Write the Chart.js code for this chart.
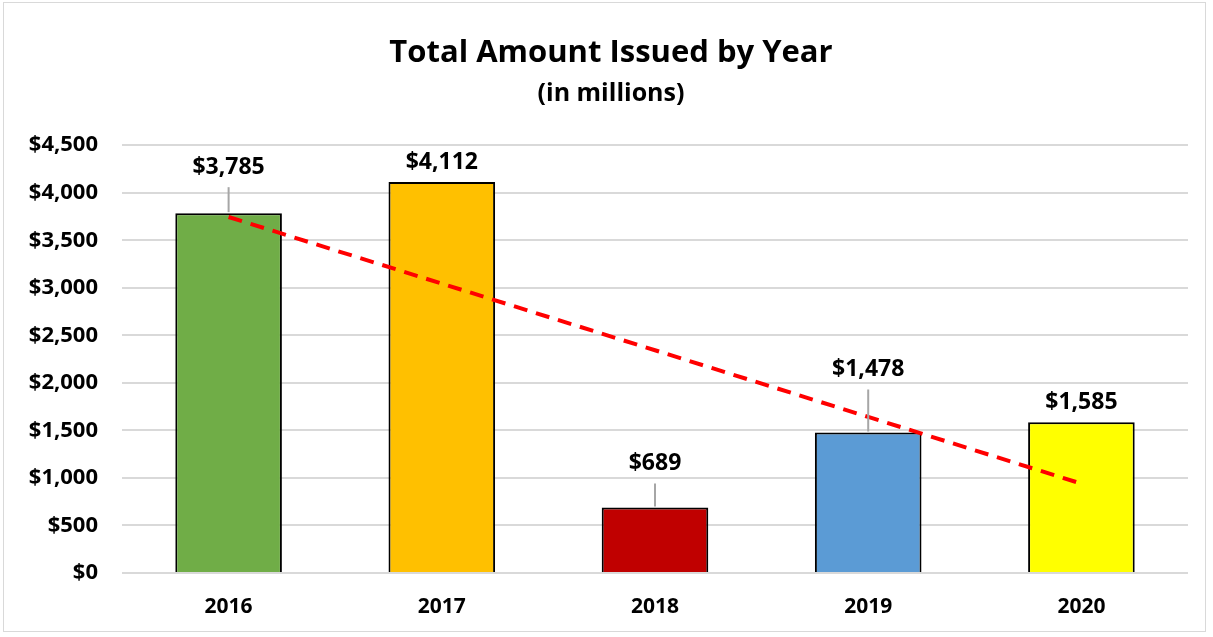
<!DOCTYPE html>
<html>
<head>
<meta charset="utf-8">
<script src="https://cdn.jsdelivr.net/npm/chart.js@4.4.1/dist/chart.umd.min.js"></script>
<style>
  body { margin: 0; background: #fff; }
  #wrap { position: absolute; left: 3px; top: 2px; width: 1203px; height: 630px; border: 1px solid #d9d9d9; box-sizing: border-box; }
</style>
</head>
<body>
<div id="wrap"><canvas id="barChart"></canvas></div>
<script>
var years = ['2016', '2017', '2018', '2019', '2020'];
var amounts = [3785, 4112, 689, 1478, 1585];
var trendValues = [3745, 3044, 2343, 1642, 940];
var barColors = ['#70AD47', '#FFC000', '#C00000', '#5B9BD5', '#FFFF00'];

var FONT = "'Open Sans', sans-serif";

function money(v) {
  return '$' + Number(v).toLocaleString('en-US');
}

// labels above bars, some lifted with a grey leader line
var labelPlugin = {
  id: 'barLabels',
  afterLayout: function(chart) {
    // nudge title + subtitle a little right, like the original
    chart.boxes.forEach(function(b) {
      if (b.options && b.options.text !== undefined && b.left !== undefined) {
        b.left += 30;
      }
    });
  },
  afterDatasetsDraw: function(chart) {
    var ctx = chart.ctx;
    var meta = chart.getDatasetMeta(1);
    var lift = [26, 0, 24, 43, 0];
    ctx.save();
    ctx.font = 'bold 23px ' + FONT;
    ctx.fillStyle = '#000';
    ctx.textAlign = 'center';
    ctx.textBaseline = 'middle';
    meta.data.forEach(function(bar, i) {
      var top = bar.y;
      if (lift[i] > 0) {
        ctx.strokeStyle = '#a6a6a6';
        ctx.lineWidth = 2;
        ctx.beginPath();
        ctx.moveTo(bar.x, top - 1);
        ctx.lineTo(bar.x, top - lift[i]);
        ctx.stroke();
      }
      ctx.fillText(money(amounts[i]), bar.x, top - lift[i] - 20);
    });
    ctx.restore();
  }
};

var ctx = document.getElementById('barChart').getContext('2d');
var barChart = new Chart(ctx, {
  type: 'bar',
  data: {
    labels: years,
    datasets: [{
      type: 'line',
      data: trendValues,
      borderColor: '#FF0000',
      borderWidth: 4,
      borderDash: [14, 9],
      pointRadius: 0,
      fill: false,
      order: 0
    }, {
      data: amounts,
      backgroundColor: barColors,
      borderColor: '#000',
      borderWidth: 2,
      categoryPercentage: 1,
      barPercentage: 0.5,
      order: 1
    }]
  },
  options: {
    responsive: true,
    maintainAspectRatio: false,
    animation: false,
    layout: { padding: { left: 0, right: 17, top: 0, bottom: 0 } },
    plugins: {
      legend: { display: false },
      tooltip: { enabled: false },
      title: {
        display: true,
        text: 'Total Amount Issued by Year',
        color: '#000',
        font: { family: FONT, size: 31, weight: 'bold' },
        padding: { top: 32, bottom: 4 }
      },
      subtitle: {
        display: true,
        text: '(in millions)',
        color: '#000',
        font: { family: FONT, size: 25, weight: 'bold' },
        padding: { top: 3, bottom: 36 }
      }
    },
    scales: {
      x: {
        grid: { display: false },
        border: { display: false },
        ticks: { color: '#000', font: { family: FONT, size: 21, weight: 'bold' }, padding: 13 },
        afterFit: function(scale) { scale.height = 58; }
      },
      y: {
        min: 0,
        max: 4500,
        ticks: {
          stepSize: 500,
          color: '#000',
          padding: 24,
          font: { family: FONT, size: 22, weight: 'bold' },
          callback: function(v) { return money(v); }
        },
        grid: { color: '#d9d9d9', lineWidth: 2, drawTicks: false },
        border: { display: false },
        afterFit: function(scale) { scale.width = 118; }
      }
    }
  },
  plugins: [labelPlugin]
});
</script>
</body>
</html>
